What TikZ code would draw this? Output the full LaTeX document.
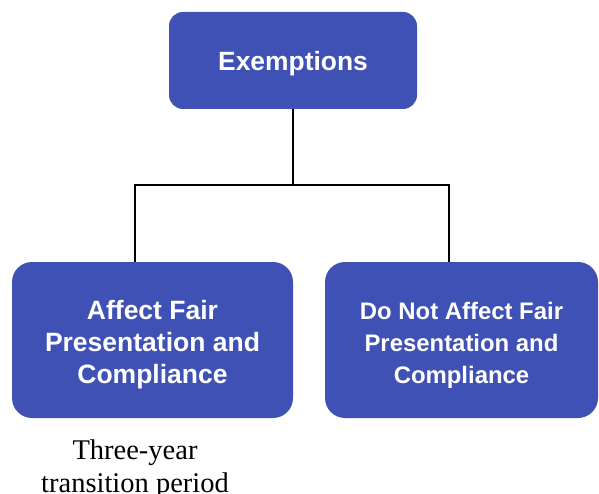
\documentclass[tikz,border=0pt]{standalone}
\usepackage{fontspec}
\setmainfont{Liberation Serif}
\newfontfamily\boxfont{Liberation Sans}
\usetikzlibrary{positioning,calc}
\definecolor{boxblue}{HTML}{3F51B5}
\definecolor{ink}{HTML}{000000}
\newcommand{\toplift}[1]{\rule{0pt}{#1}}
\tikzset{
  headbox/.style={draw=none,fill=boxblue,rounded corners=14pt,
                  minimum width=248pt,minimum height=97pt,
                  align=center,text=white,inner sep=0pt,
                  font=\boxfont\bfseries\fontsize{26.4}{32}\selectfont},
  branchbox/.style={draw=none,fill=boxblue,rounded corners=20pt,
                    minimum height=156pt,align=center,text=white,inner sep=0pt,
                    font=\boxfont\bfseries\fontsize{26.5}{32}\selectfont},
  treeline/.style={draw=ink,line width=1.6pt},
  notetext/.style={align=center,inner sep=0pt,
                   font=\fontsize{28.5}{33}\selectfont}
}

\begin{document}
\begin{tikzpicture}[x=1pt,y=-1pt]
  \useasboundingbox (0,0) rectangle (599,494);

  % Top box
  \node[headbox] (exempt) at (293,60.5) {\toplift{25pt}Exemptions};

  % Bottom row
  \node[branchbox,minimum width=281pt] (affect) at (152.5,340) {%
    \toplift{29pt}Affect Fair\\Presentation and\\Compliance};
  \node[branchbox,minimum width=273pt,
        font=\boxfont\bfseries\fontsize{23.9}{32}\selectfont] (noaffect) at (461.5,340) {%
    \toplift{27.5pt}Do Not Affect Fair\\Presentation and\\Compliance};

  % Note under the left box
  \node[notetext,anchor=north] (transition) at (135,440) {Three-year\\transition period};

  % Tree connectors
  \coordinate (split) at (293,185);
  \draw[treeline] (exempt.south) -- (split);
  \draw[treeline] (split) -| ([xshift=-17.5pt]affect.north);
  \draw[treeline] (split) -| ([xshift=-12.5pt]noaffect.north);
\end{tikzpicture}
\end{document}
